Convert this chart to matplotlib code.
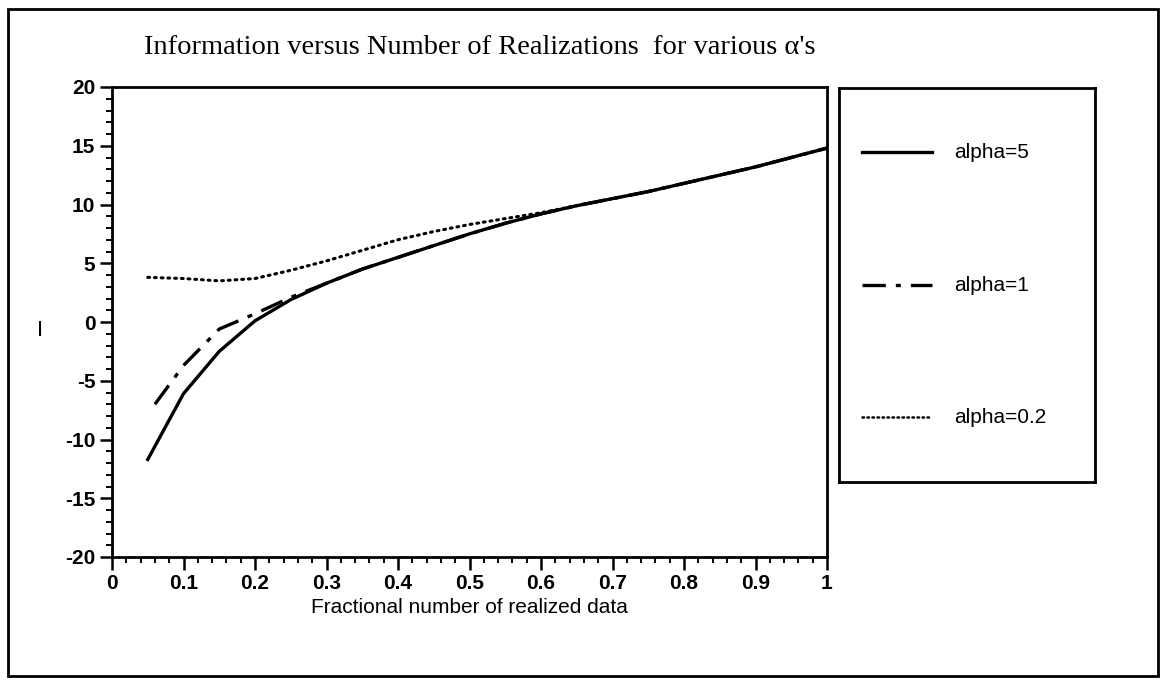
import matplotlib
matplotlib.use('Agg')
from matplotlib import pyplot as plt
from matplotlib.patches import Rectangle
from matplotlib.ticker import MultipleLocator

plt.rcParams['axes.unicode_minus'] = False

# fractional number of realized data
x = [0.05, 0.10, 0.15, 0.20, 0.25, 0.30, 0.35, 0.40, 0.45, 0.50,
     0.55, 0.60, 0.65, 0.70, 0.75, 0.80, 0.85, 0.90, 0.95, 1.00]
alpha5 = [-11.7, -6.1, -2.5, 0.1, 1.9, 3.3, 4.5, 5.5, 6.5, 7.5,
          8.4, 9.2, 9.9, 10.5, 11.1, 11.8, 12.5, 13.2, 14.0, 14.8]
x_a1 = [0.06, 0.10, 0.15, 0.20, 0.25, 0.30, 0.35, 0.40, 0.45, 0.50,
        0.55, 0.60, 0.65, 0.70, 0.75, 0.80, 0.85, 0.90, 0.95, 1.00]
alpha1 = [-7.0, -3.7, -0.6, 0.7, 2.1, 3.3, 4.5, 5.5, 6.5, 7.5,
          8.4, 9.2, 9.9, 10.5, 11.1, 11.8, 12.5, 13.2, 14.0, 14.8]
alpha02 = [3.8, 3.7, 3.5, 3.7, 4.4, 5.2, 6.1, 7.0, 7.7, 8.3,
           8.8, 9.3, 9.9, 10.5, 11.1, 11.8, 12.5, 13.2, 14.0, 14.8]
labels = ['alpha=5', 'alpha=1', 'alpha=0.2']
xticks = [0, 0.1, 0.2, 0.3, 0.4, 0.5, 0.6, 0.7, 0.8, 0.9, 1]
xticklabels = ['0', '0.1', '0.2', '0.3', '0.4', '0.5', '0.6', '0.7', '0.8', '0.9', '1']
yticks = [-20, -15, -10, -5, 0, 5, 10, 15, 20]

W, H = 1164, 680
fig = plt.figure(figsize=(W / 100, H / 100), dpi=100)

# outer frame round the whole picture
fig.patches.append(Rectangle((8 / W, 1 - 676 / H), 1150 / W, 667 / H,
                             transform=fig.transFigure, fill=False,
                             lw=2.0, ec='black'))

ax = fig.add_axes([112 / W, 1 - 557 / H, 715 / W, 470 / H])
l5, = ax.plot(x, alpha5, '-', color='black', lw=2.4)
l1, = ax.plot(x_a1, alpha1, color='black', lw=2.4, dashes=(7, 3, 1.5, 3))
l02, = ax.plot(x, alpha02, color='black', lw=2.2, dashes=(0.6, 1.6),
               dash_capstyle='round')

ax.set_xlim(0, 1)
ax.set_ylim(-20, 20)
ax.set_xticks(xticks)
ax.set_xticklabels(xticklabels)
ax.set_yticks(yticks)
ax.xaxis.set_minor_locator(MultipleLocator(0.02))
ax.yaxis.set_minor_locator(MultipleLocator(1))
ax.tick_params(which='major', direction='out', length=9, width=1.8, labelsize=15, pad=3)
ax.tick_params(which='minor', direction='out', length=4.5, width=1.4)
for t in ax.get_xticklabels() + ax.get_yticklabels():
    t.set_fontweight('bold')
    t.set_family('Liberation Sans')
for s in ax.spines.values():
    s.set_linewidth(2.0)

ax.set_xlabel('Fractional number of realized data', fontsize=15,
              family='Liberation Sans', labelpad=4)
fig.text(40 / W, 1 - 330 / H, 'I', fontsize=16, family='Liberation Sans',
         ha='center', va='center')
fig.text(144 / W, 1 - 48 / H,
         "Information versus Number of Realizations  for various \u03b1's",
         fontsize=20.5, family='Liberation Serif', ha='left', va='center')

# legend box drawn by hand
lax = fig.add_axes([839 / W, 1 - 482 / H, 256 / W, 394 / H])
lax.set_xlim(0, 256)
lax.set_ylim(394, 0)
lax.set_xticks([])
lax.set_yticks([])
for s in lax.spines.values():
    s.set_linewidth(2.0)
rows = [64, 197, 329]
styles = [dict(ls='-', lw=2.4), dict(lw=2.4, dashes=(7, 3, 1.5, 3)),
          dict(lw=1.8, dashes=(0.6, 1.4), dash_capstyle='round')]
for r, lab, st in zip(rows, labels, styles):
    lax.plot([23, 93], [r, r], color='black', **st)
    lax.text(115, r, lab, fontsize=15, family='Liberation Sans', va='center', ha='left')

fig.savefig('out.png', dpi=100)
